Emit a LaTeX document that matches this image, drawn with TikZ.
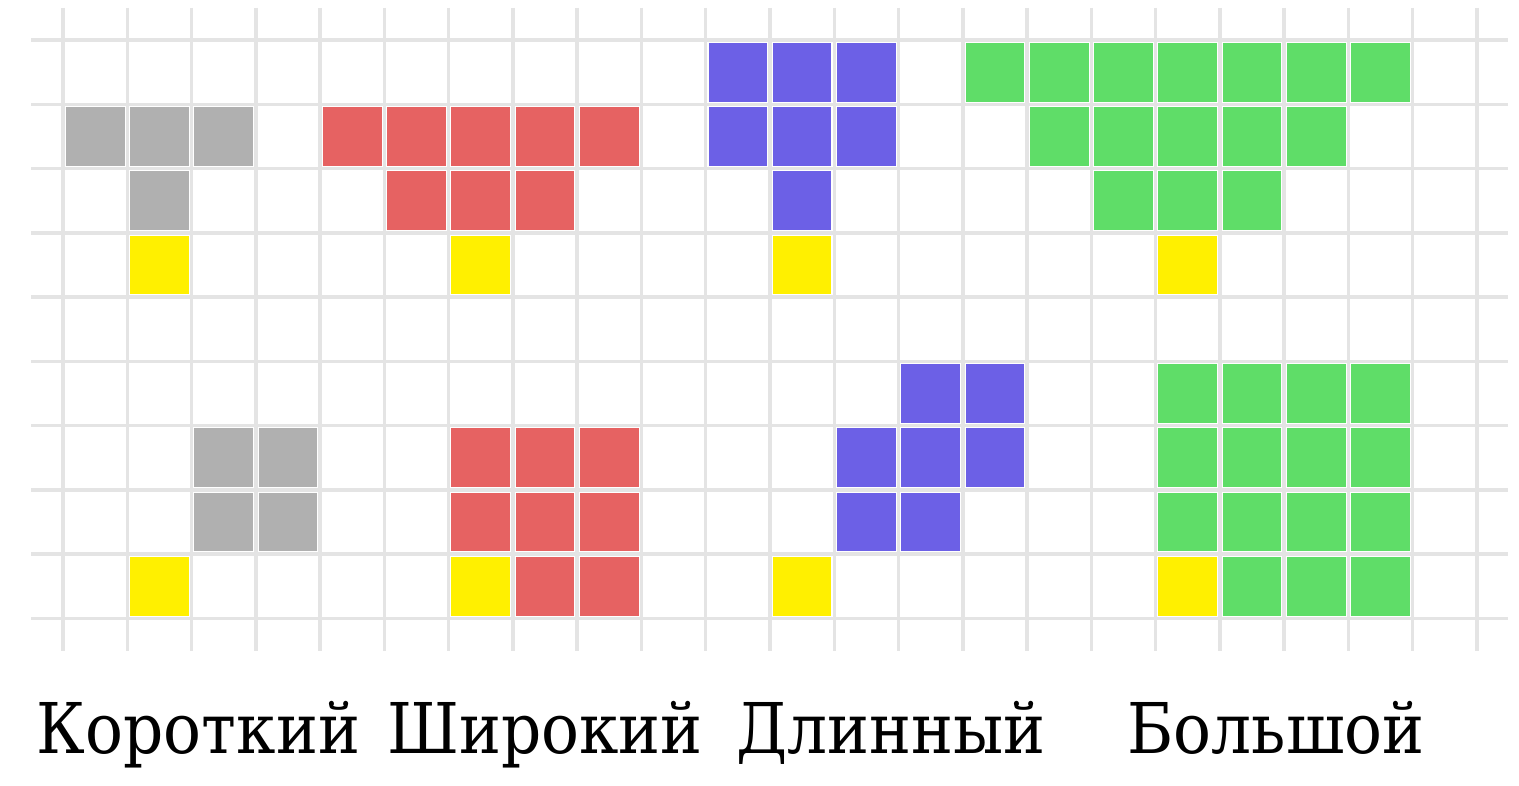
\documentclass[tikz,border=0pt]{standalone}
\usepackage{fontspec}
\setmainfont{Liberation Serif}
\IfFontExistsTF{DejaVu Serif Condensed}
  {\newfontfamily\lblfont{DejaVu Serif Condensed}}
  {\newfontfamily\lblfont{DejaVu Serif}[FakeStretch=0.9]}
\definecolor{gridc}{HTML}{E4E4E4}
\definecolor{cgray}{HTML}{B0B0B0}
\definecolor{cred}{HTML}{E66262}
\definecolor{cblue}{HTML}{6C60E6}
\definecolor{cgreen}{HTML}{5FDD68}
\definecolor{cyel}{HTML}{FFF000}
\newcommand\sq[3]{\fill[#1] ({63+64.27*#2+2.8},{40+64.27*#3+2.8}) rectangle ++(58.7,58.7);}
\tikzset{gridline/.style={draw=gridc,line width=3.5bp},
  lbl/.style={font=\lblfont\fontsize{70bp}{80bp}\selectfont,anchor=base,inner sep=0}}
\begin{document}
\begin{tikzpicture}[x=1bp,y=-1bp]
\useasboundingbox[fill=white] (0,0) rectangle (1519,785);
% grid
\foreach \j in {0,...,9} {\draw[gridline] (31,{40+64.27*\j}) -- (1508,{40+64.27*\j});}
\foreach \i in {0,...,22} {\draw[gridline] ({63+64.27*\i},8) -- ({63+64.27*\i},651);}
% top: gray
\foreach \c in {0,1,2} {\sq{cgray}{\c}{1}}
\sq{cgray}{1}{2}
\sq{cyel}{1}{3}
% top: red
\foreach \c in {4,...,8} {\sq{cred}{\c}{1}}
\foreach \c in {5,6,7} {\sq{cred}{\c}{2}}
\sq{cyel}{6}{3}
% top: blue
\foreach \c in {10,11,12} {\sq{cblue}{\c}{0}\sq{cblue}{\c}{1}}
\sq{cblue}{11}{2}
\sq{cyel}{11}{3}
% top: green
\foreach \c in {14,...,20} {\sq{cgreen}{\c}{0}}
\foreach \c in {15,...,19} {\sq{cgreen}{\c}{1}}
\foreach \c in {16,17,18} {\sq{cgreen}{\c}{2}}
\sq{cyel}{17}{3}
% bottom: gray
\foreach \c in {2,3} {\sq{cgray}{\c}{6}\sq{cgray}{\c}{7}}
\sq{cyel}{1}{8}
% bottom: red
\foreach \c in {6,7,8} {\sq{cred}{\c}{6}\sq{cred}{\c}{7}}
\foreach \c in {7,8} {\sq{cred}{\c}{8}}
\sq{cyel}{6}{8}
% bottom: blue
\foreach \c in {13,14} {\sq{cblue}{\c}{5}}
\foreach \c in {12,13,14} {\sq{cblue}{\c}{6}}
\foreach \c in {12,13} {\sq{cblue}{\c}{7}}
\sq{cyel}{11}{8}
% bottom: green
\foreach \c in {17,...,20} {\sq{cgreen}{\c}{5}\sq{cgreen}{\c}{6}\sq{cgreen}{\c}{7}}
\foreach \c in {18,19,20} {\sq{cgreen}{\c}{8}}
\sq{cyel}{17}{8}
% labels
\node[lbl] (l1) at (198.5,753) {Короткий};
\node[lbl] (l2) at (545,753) {Широкий};
\node[lbl] (l3) at (891,753) {Длинный};
\node[lbl] (l4) at (1276,753) {Большой};
\end{tikzpicture}
\end{document}
